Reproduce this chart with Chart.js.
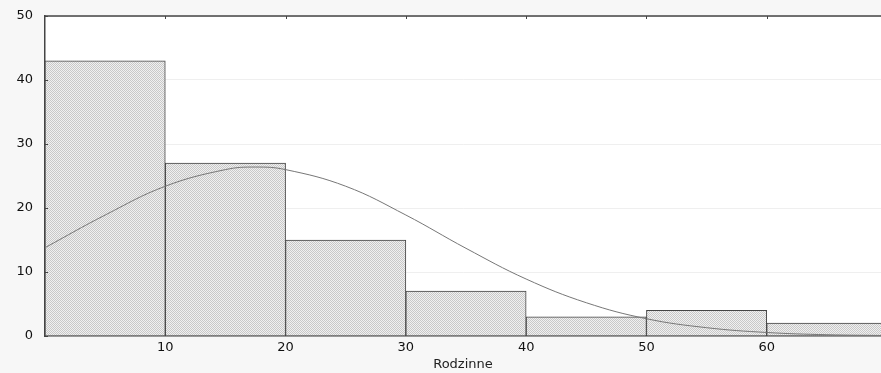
<!DOCTYPE html>
<html>
<head>
<meta charset="utf-8">
<script src="https://cdn.jsdelivr.net/npm/chart.js@4.4.1/dist/chart.umd.min.js"></script>
<style>
  html, body { margin: 0; padding: 0; background: #f7f7f7; }
  #wrap { width: 881px; height: 373px; }
</style>
</head>
<body>
<div id="wrap"><canvas id="histChart" width="881" height="373"></canvas></div>
<script>
// histogram bins (centre of each 10-wide class) and counts
const binCentres = [5, 15, 25, 35, 45, 55, 65];
const binCounts = [43, 27, 15, 7, 3, 4, 2];

// fitted normal curve
const curveX = [0, 5, 10, 15, 17.5, 20, 25, 30, 35, 40, 45, 50, 55, 60, 65, 70];
const curveY = [13.8, 18.9, 23.4, 26.0, 26.4, 26.0, 23.4, 18.9, 13.7, 8.9, 5.2, 2.7, 1.3, 0.55, 0.2, 0.07];

const xTicks = [10, 20, 30, 40, 50, 60];
const yTicks = [0, 10, 20, 30, 40, 50];

// stipple fill like the original
function makeStipple() {
    const c = document.createElement("canvas");
    c.width = 2; c.height = 2;
    const g = c.getContext("2d");
    g.fillStyle = "#f0f0f0";
    g.fillRect(0, 0, 2, 2);
    g.fillStyle = "#c8c8c8";
    g.fillRect(0, 0, 1, 1);
    g.fillRect(1, 1, 1, 1);
    return g.createPattern(c, "repeat");
}

const ctx = document.getElementById("histChart").getContext("2d");

const frame = {
    id: "frame",
    beforeDraw(chart) {
        const a = chart.chartArea;
        const c = chart.ctx;
        c.save();
        c.fillStyle = "#f7f7f7";
        c.fillRect(0, 0, chart.width, chart.height);
        c.fillStyle = "#ffffff";
        c.fillRect(a.left, a.top, a.right - a.left, a.bottom - a.top);
        c.restore();
    },
    afterDraw(chart) {
        const a = chart.chartArea;
        const c = chart.ctx;
        const xs = chart.scales.x, ys = chart.scales.y;
        c.save();
        c.strokeStyle = "#444";
        c.lineWidth = 1.5;
        c.beginPath();
        c.moveTo(a.left, a.top);
        c.lineTo(a.right, a.top);
        c.stroke();
        c.lineWidth = 1;
        c.beginPath();
        xTicks.forEach(v => {
            const px = Math.round(xs.getPixelForValue(v)) + 0.5;
            c.moveTo(px, a.top);
            c.lineTo(px, a.top + 3);
        });
        yTicks.forEach(v => {
            const py = Math.round(ys.getPixelForValue(v)) + 0.5;
            c.moveTo(a.left, py);
            c.lineTo(a.left + 3, py);
        });
        c.stroke();
        c.restore();
    }
};

new Chart(ctx, {
    data: {
        datasets: [{
            type: "line",
            data: curveX.map((x, i) => ({ x: x, y: curveY[i] })),
            borderColor: "#777",
            borderWidth: 1,
            pointRadius: 0,
            tension: 0.4,
            fill: false,
            order: 0
        }, {
            type: "bar",
            data: binCentres.map((x, i) => ({ x: x, y: binCounts[i] })),
            backgroundColor: makeStipple(),
            borderColor: "#444",
            borderWidth: 1,
            barPercentage: 1,
            categoryPercentage: 1,
            order: 1
        }]
    },
    options: {
        responsive: false,
        animation: false,
        layout: { padding: { top: 16, right: 0, left: 0, bottom: 0 } },
        plugins: { legend: { display: false }, tooltip: { enabled: false } },
        scales: {
            x: {
                type: "linear",
                min: 0,
                max: 69.5,
                offset: false,
                afterBuildTicks: s => { s.ticks = xTicks.map(v => ({ value: v })); },
                ticks: {
                    color: "#111",
                    font: { family: "DejaVu Sans", size: 13 },
                    padding: 4,
                    maxRotation: 0
                },
                grid: { display: false, drawTicks: false },
                border: { color: "#444", width: 1.5 },
                title: {
                    display: true,
                    text: "Rodzinne",
                    color: "#222",
                    font: { family: "DejaVu Sans", size: 13 },
                    padding: { top: 0, bottom: 1 }
                },
                afterFit: s => { s.height = 37; s.paddingLeft = 0; s.paddingRight = 0; }
            },
            y: {
                min: 0,
                max: 50,
                afterBuildTicks: s => { s.ticks = yTicks.map(v => ({ value: v })); },
                ticks: {
                    color: "#111",
                    font: { family: "DejaVu Sans", size: 13 },
                    padding: 12
                },
                grid: { color: "#efefef", drawTicks: false },
                border: { color: "#444", width: 1.5 },
                afterFit: s => { s.width = 45; s.paddingTop = 0; s.paddingBottom = 0; }
            }
        }
    },
    plugins: [frame]
});
</script>
</body>
</html>
